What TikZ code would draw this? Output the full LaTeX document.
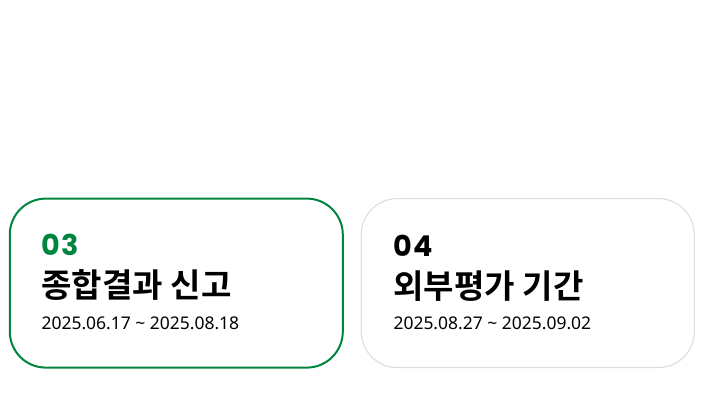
\documentclass[tikz,border=0pt]{standalone}
\usepackage{fontspec}
\setmainfont{Noto Sans CJK KR}
\newfontfamily\krbold{Noto Sans CJK KR Bold}
\newfontfamily\numfont[LetterSpace=4]{Poppins Bold}
\newfontfamily\datefont{Noto Sans}
\usetikzlibrary{positioning, calc}
\definecolor{stepgreen}{HTML}{00853F}
\definecolor{cardgray}{HTML}{DCDCDC}
\tikzset{
  card/.style={draw, rounded corners=36*0.75pt, minimum width=333*0.75pt, minimum height=169*0.75pt, inner sep=0pt},
  numtext/.style={anchor=base west, inner sep=0pt, font=\numfont\fontsize{21.5pt}{22pt}\selectfont},
  titletext/.style={anchor=base west, inner sep=0pt, font=\krbold\fontsize{24.8pt}{26pt}\selectfont},
  datetext/.style={anchor=base west, inner sep=0pt, font=\datefont\fontsize{13.1pt}{14pt}\selectfont}
}
\begin{document}
\begin{tikzpicture}[x=0.75pt, y=-0.75pt]
    \useasboundingbox (0,0) rectangle (701,417);
    %
    \foreach \cx / \n / \ttl / \dt / \col / \lw / \numcol in {176.3/03/종합결과 신고/2025.06.17 \textasciitilde{} 2025.08.18/stepgreen/1.5pt/stepgreen,
                                                    527.8/04/외부평가 기간/2025.08.27 \textasciitilde{} 2025.09.02/cardgray/0.8pt/black}
    {
    \node[card, draw=\col, line width=\lw] (card\n) at (\cx,283.1) {};
    \coordinate (org\n) at ($(card\n.north west)+(32.5,0)$);
    \node[numtext, text=\numcol] (num\n) at ($(org\n)+(0,58.4)$) {\n};
    \node[titletext] (title\n) at ($(org\n)+(0,100)$) {\ttl};
    \node[datetext] (date\n) at ($(org\n)+(0,131.5)$) {\dt};
    }
\end{tikzpicture}
\end{document}
